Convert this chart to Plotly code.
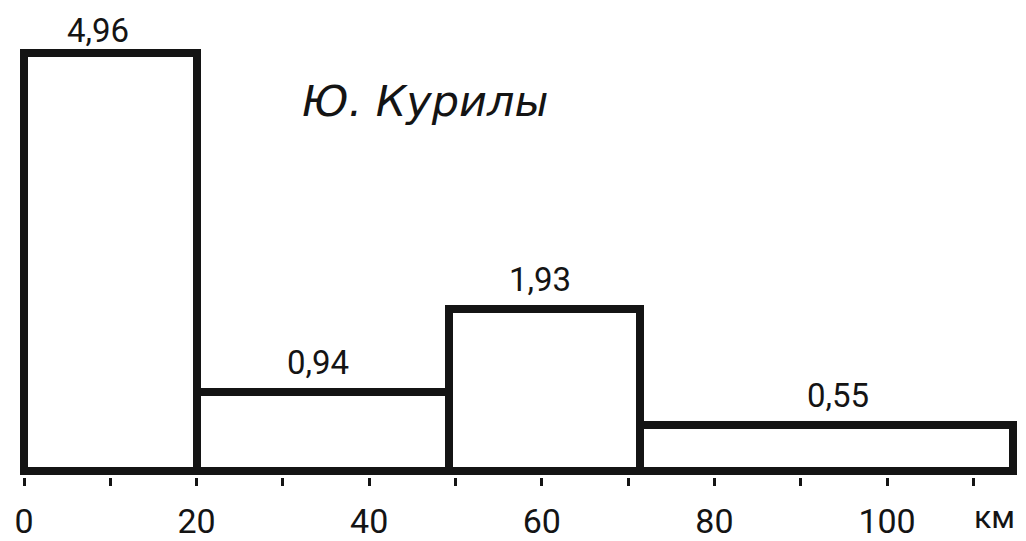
import plotly.graph_objects as go

# Data
bin_edges = [0, 20, 49.3, 71.4, 114.6]
values = [4.96, 0.94, 1.93, 0.55]
value_labels = ["4,96", "0,94", "1,93", "0,55"]
tick_vals = [0, 20, 40, 60, 80, 100]
tick_text = ["0", "20", "40", "60", "80", "100"]
title_text = "Ю. Курилы"
unit_text = "км"

centers = [(a + b) / 2 for a, b in zip(bin_edges[:-1], bin_edges[1:])]
widths = [b - a for a, b in zip(bin_edges[:-1], bin_edges[1:])]

NUM_FONT = "Roboto, Liberation Sans, sans-serif"
TITLE_FONT = "DejaVu Sans, sans-serif"
INK = "#141414"

fig = go.Figure()
fig.add_trace(go.Bar(
    x=centers, y=values, width=widths,
    marker=dict(color="white", line=dict(color=INK, width=8)),
    hoverinfo="skip",
))

label_xshift = [-12, -5, -5, 11]
label_yshift = [23, 29, 29, 29]
for c, v, t, sx, sy in zip(centers, values, value_labels, label_xshift, label_yshift):
    fig.add_annotation(x=c, y=v, text=t, showarrow=False, xref="x", yref="y",
                       yshift=sy, xshift=sx, font=dict(family=NUM_FONT, size=33, color=INK))

fig.add_annotation(x=0.41, y=0.86, xref="paper", yref="paper", text="<i>" + title_text + "</i>",
                   showarrow=False, font=dict(family=TITLE_FONT, size=43, color=INK))

fig.add_annotation(x=112.4, y=-0.085, xref="x", yref="paper", yanchor="middle",
                   text=unit_text, showarrow=False,
                   font=dict(family=NUM_FONT, size=32, color=INK))

fig.update_layout(
    width=1018, height=533,
    margin=dict(l=0, r=0, t=0, b=58),
    paper_bgcolor="white", plot_bgcolor="white",
    showlegend=False, bargap=0,
    xaxis=dict(range=[-1.854, 116.1], tickmode="array", tickvals=tick_vals, ticktext=tick_text,
               ticks="outside", ticklen=8, tickwidth=3, tickcolor=INK,
               ticklabelstandoff=6,
               showgrid=False, zeroline=False, showline=False,
               tickfont=dict(family=NUM_FONT, size=34, color=INK),
               minor=dict(dtick=10, ticks="outside", ticklen=8, tickwidth=3, tickcolor=INK)),
    yaxis=dict(range=[-0.0703, 5.498], visible=False, showgrid=False, zeroline=False),
)

fig.write_html("out.html")
